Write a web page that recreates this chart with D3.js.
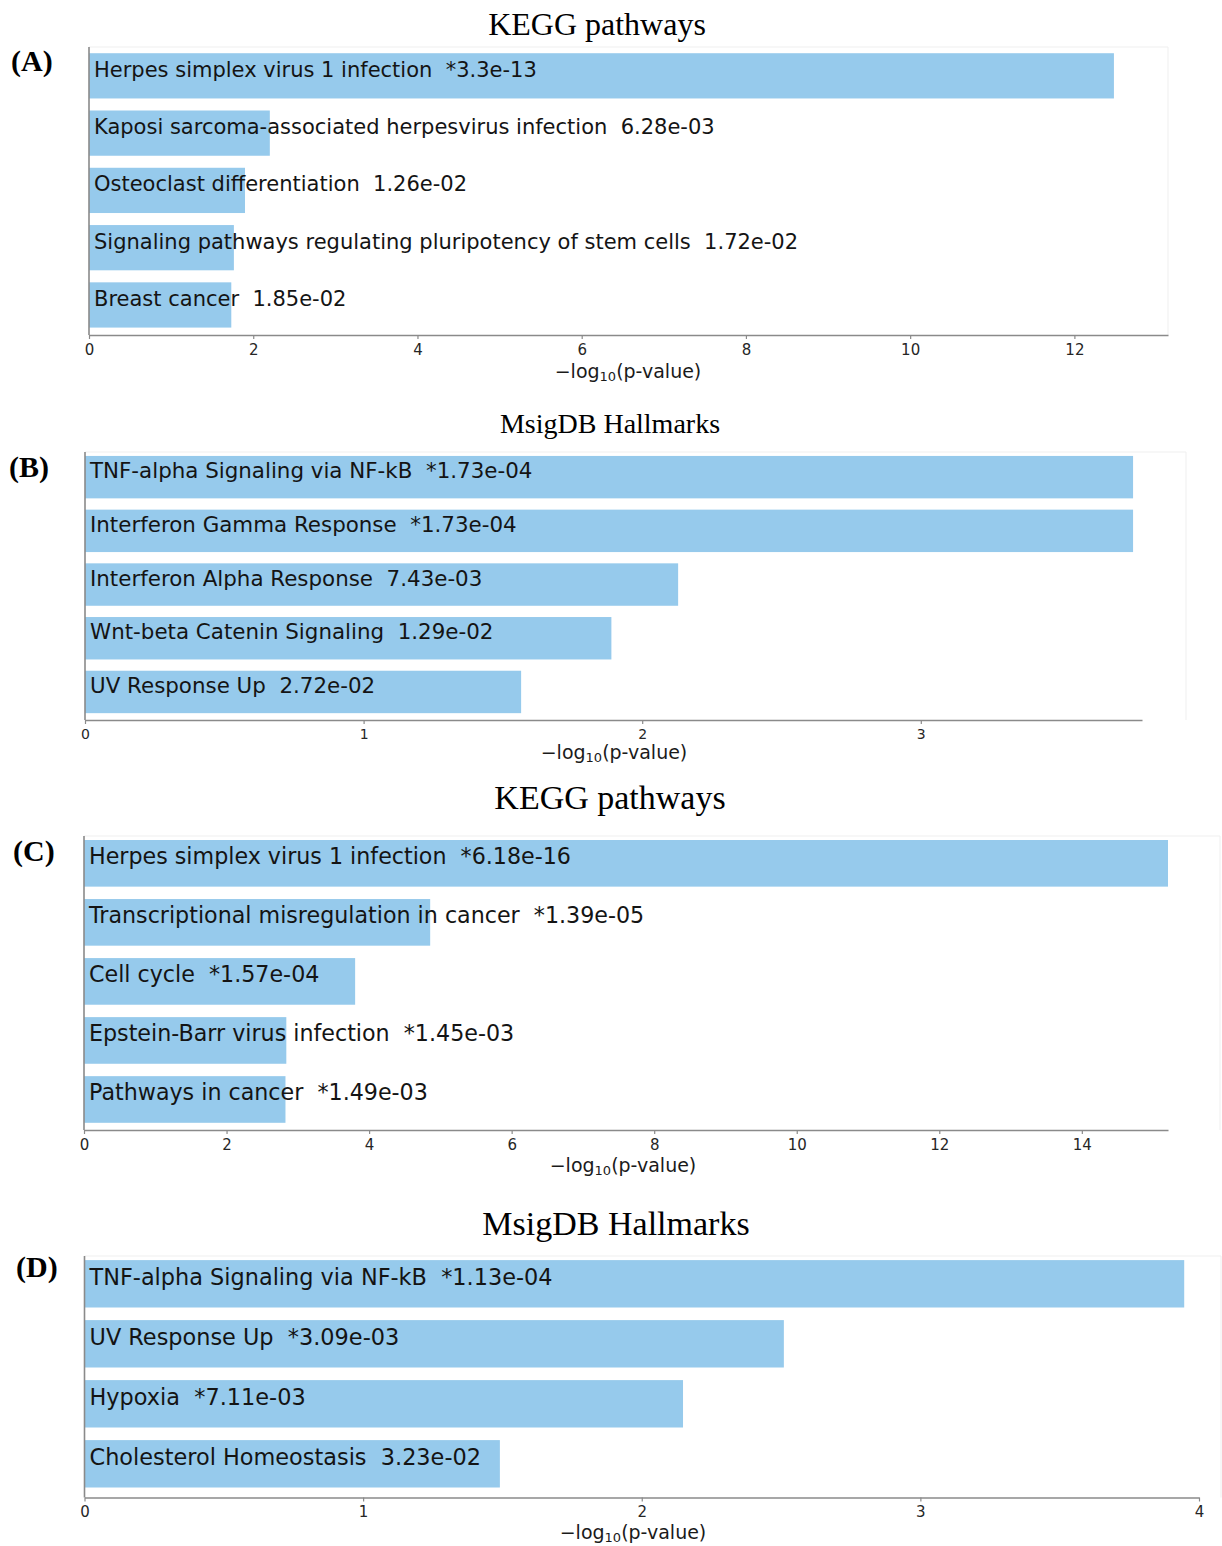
<!DOCTYPE html>
<html>
<head>
<meta charset="utf-8">
<script src="https://cdn.jsdelivr.net/npm/d3@7"></script>
<style>
  html, body { margin: 0; padding: 0; background: #ffffff; }
  svg { display: block; }
</style>
</head>
<body>
<svg id="fig" width="1222" height="1546"></svg>
<script>
// ---- (A) KEGG pathways ----
const keggA_terms = [
  "Herpes simplex virus 1 infection",
  "Kaposi sarcoma-associated herpesvirus infection",
  "Osteoclast differentiation",
  "Signaling pathways regulating pluripotency of stem cells",
  "Breast cancer"
];
const keggA_pvals = ["3.3e-13", "6.28e-03", "1.26e-02", "1.72e-02", "1.85e-02"];
const keggA_sig = [true, false, false, false, false];
const keggA_ticks = [0, 2, 4, 6, 8, 10, 12];

// ---- (B) MsigDB Hallmarks ----
const hallB_terms = [
  "TNF-alpha Signaling via NF-kB",
  "Interferon Gamma Response",
  "Interferon Alpha Response",
  "Wnt-beta Catenin Signaling",
  "UV Response Up"
];
const hallB_pvals = ["1.73e-04", "1.73e-04", "7.43e-03", "1.29e-02", "2.72e-02"];
const hallB_sig = [true, true, false, false, false];
const hallB_ticks = [0, 1, 2, 3];

// ---- (C) KEGG pathways ----
const keggC_terms = [
  "Herpes simplex virus 1 infection",
  "Transcriptional misregulation in cancer",
  "Cell cycle",
  "Epstein-Barr virus infection",
  "Pathways in cancer"
];
const keggC_pvals = ["6.18e-16", "1.39e-05", "1.57e-04", "1.45e-03", "1.49e-03"];
const keggC_sig = [true, true, true, true, true];
const keggC_ticks = [0, 2, 4, 6, 8, 10, 12, 14];

// ---- (D) MsigDB Hallmarks ----
const hallD_terms = [
  "TNF-alpha Signaling via NF-kB",
  "UV Response Up",
  "Hypoxia",
  "Cholesterol Homeostasis"
];
const hallD_pvals = ["1.13e-04", "3.09e-03", "7.11e-03", "3.23e-02"];
const hallD_sig = [true, true, true, false];
const hallD_ticks = [0, 1, 2, 3, 4];

const BAR_COLOR = "#96caec";
const AXIS_COLOR = "#8a8a8a";
const FRAME_COLOR = "#efefef";
const TEXT_COLOR = "#141414";
const SANS = "'DejaVu Sans', sans-serif";
const SERIF = "'Liberation Serif', 'Times New Roman', serif";

// Panel definitions: data references plus the geometry of each sub-figure
const panels = [
  {
    tag: "(A)", title: "KEGG pathways",
    terms: keggA_terms, pvals: keggA_pvals, sig: keggA_sig, ticks: keggA_ticks,
    g: { left: 89, xEnd: 1168, xMax: 13.14, frameTop: 47, frameRight: 1168,
         bandTop: 47.2, bandBottom: 333.6, axisY: 335, labelSize: 21, tickSize: 15,
         titleX: 597, titleY: 35, titleSize: 32, tagX: 11, tagY: 71,
         axLabelX: 628, axLabelY: 378 }
  },
  {
    tag: "(B)", title: "MsigDB Hallmarks",
    terms: hallB_terms, pvals: hallB_pvals, sig: hallB_sig, ticks: hallB_ticks,
    g: { left: 85, xEnd: 1142, xMax: 3.794, frameTop: 452, frameRight: 1186,
         bandTop: 450.3, bandBottom: 718.8, axisY: 720, labelSize: 21.4, tickSize: 14,
         titleX: 610, titleY: 433, titleSize: 28, tagX: 9, tagY: 477,
         axLabelX: 614, axLabelY: 759 }
  },
  {
    tag: "(C)", title: "KEGG pathways",
    terms: keggC_terms, pvals: keggC_pvals, sig: keggC_sig, ticks: keggC_ticks,
    g: { left: 84, xEnd: 1168, xMax: 15.209, frameTop: 836, frameRight: 1220,
         bandTop: 833.8, bandBottom: 1129, axisY: 1130, labelSize: 22.2, tickSize: 15,
         titleX: 610, titleY: 809, titleSize: 34, tagX: 13, tagY: 861,
         axLabelX: 623, axLabelY: 1172 }
  },
  {
    tag: "(D)", title: "MsigDB Hallmarks",
    terms: hallD_terms, pvals: hallD_pvals, sig: hallD_sig, ticks: hallD_ticks,
    g: { left: 84.5, xEnd: 1199, xMax: 4, frameTop: 1256, frameRight: 1221,
         bandTop: 1253.8, bandBottom: 1493.8, axisY: 1497.5, labelSize: 22.4, tickSize: 15,
         titleX: 616, titleY: 1235, titleSize: 34, tagX: 16, tagY: 1277,
         axLabelX: 633, axLabelY: 1539 }
  }
];

const svg = d3.select("#fig");

panels.forEach(p => {
  const g = p.g;
  const rows = p.terms.map((t, i) => ({
    term: t,
    pStr: p.pvals[i],
    sig: p.sig[i],
    value: -Math.log10(+p.pvals[i])
  }));

  const x = d3.scaleLinear().domain([0, g.xMax]).range([g.left, g.xEnd]);
  const pad = 0.21;
  const y = d3.scaleBand()
    .domain(rows.map(r => r.term))
    .range([g.bandTop, g.bandBottom])
    .paddingInner(pad)
    .paddingOuter(pad / 2);

  const panel = svg.append("g").attr("class", "panel");

  // faint plot frame (top and right edges)
  panel.append("path")
    .attr("d", `M${g.left},${g.frameTop}H${g.frameRight}V${g.axisY}`)
    .attr("fill", "none")
    .attr("stroke", FRAME_COLOR)
    .attr("stroke-width", 1);

  // bars
  panel.append("g").selectAll("rect")
    .data(rows)
    .join("rect")
    .attr("x", x(0))
    .attr("y", d => y(d.term))
    .attr("width", d => x(d.value) - x(0))
    .attr("height", y.bandwidth())
    .attr("fill", BAR_COLOR);

  // term labels written over the bars
  panel.append("g").selectAll("text")
    .data(rows)
    .join("text")
    .attr("x", g.left + 5)
    .attr("y", d => y(d.term) + y.bandwidth() / 2 + 1)
    .attr("font-family", SANS)
    .attr("font-size", g.labelSize)
    .attr("fill", TEXT_COLOR)
    .style("white-space", "pre")
    .text(d => `${d.term}  ${d.sig ? "*" : ""}${d.pStr}`);

  // left spine
  panel.append("line")
    .attr("x1", g.left).attr("x2", g.left)
    .attr("y1", g.frameTop).attr("y2", g.axisY)
    .attr("stroke", AXIS_COLOR)
    .attr("stroke-width", 1.6);

  // bottom axis
  const axis = panel.append("g")
    .attr("transform", `translate(0,${g.axisY})`)
    .call(d3.axisBottom(x).tickValues(p.ticks).tickFormat(d3.format("d"))
      .tickSize(4).tickPadding(5).tickSizeOuter(0));
  axis.select(".domain").attr("stroke", AXIS_COLOR).attr("stroke-width", 1.6);
  axis.selectAll(".tick line").attr("stroke", AXIS_COLOR).attr("stroke-width", 1.2);
  axis.selectAll(".tick text")
    .attr("font-family", SANS)
    .attr("font-size", g.tickSize)
    .attr("fill", "#262626");

  // axis label: −log10(p-value)
  const lab = panel.append("text")
    .attr("x", g.axLabelX)
    .attr("y", g.axLabelY)
    .attr("text-anchor", "middle")
    .attr("font-family", SANS)
    .attr("font-size", 19)
    .attr("fill", "#1a1a1a");
  lab.append("tspan").text("\u2212log");
  lab.append("tspan").attr("font-size", 13).attr("dy", 3).text("10");
  lab.append("tspan").attr("dy", -3).text("(p-value)");

  // panel title
  panel.append("text")
    .attr("x", g.titleX)
    .attr("y", g.titleY)
    .attr("text-anchor", "middle")
    .attr("font-family", SERIF)
    .attr("font-size", g.titleSize)
    .attr("fill", "#000")
    .text(p.title);

  // panel tag
  panel.append("text")
    .attr("x", g.tagX)
    .attr("y", g.tagY)
    .attr("font-family", SERIF)
    .attr("font-weight", "bold")
    .attr("font-size", 30)
    .attr("fill", "#000")
    .text(p.tag);
});
</script>
</body>
</html>
